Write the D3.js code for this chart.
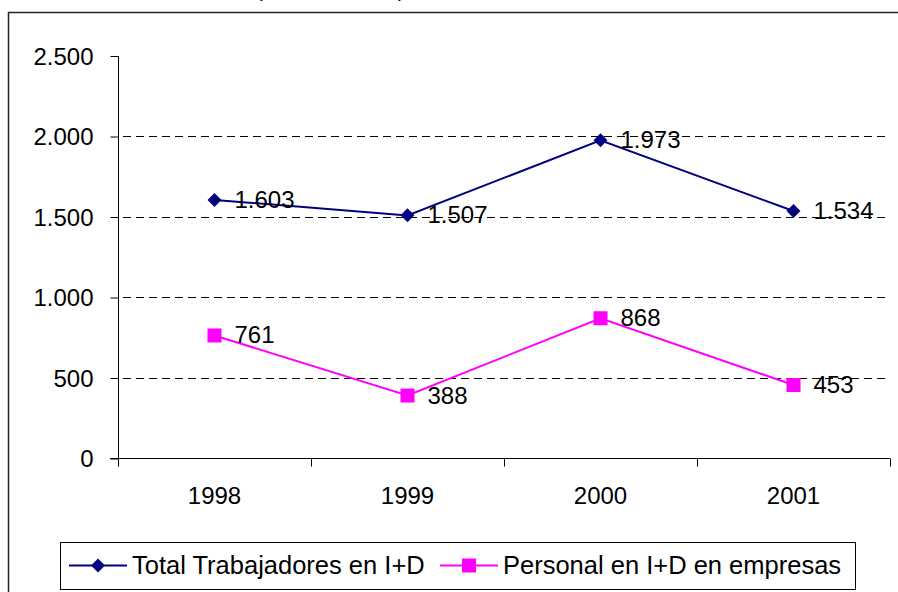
<!DOCTYPE html>
<html>
<head>
<meta charset="utf-8">
<script src="https://cdn.jsdelivr.net/npm/d3@7"></script>
<style>
  body { margin: 0; background: #fff; }
  text { font-family: "Liberation Sans", Arial, sans-serif; fill: #000; }
</style>
</head>
<body>
<script>
const width = 898;
const height = 592;

// data
const years = ["1998", "1999", "2000", "2001"];
const totalTrabajadores = [1603, 1507, 1973, 1534];
const personalEmpresas = [761, 388, 868, 453];
const yTicks = [0, 500, 1000, 1500, 2000, 2500];
const seriesNames = ["Total Trabajadores en I+D", "Personal en I+D en empresas"];

const fmt = d3.formatLocale({decimal: ",", thousands: ".", grouping: [3], currency: ["", ""]}).format(",d");

const svg = d3.select('body').append('svg').attr('width', width).attr('height', height);

// outer chart frame (runs off the page right and bottom)
svg.append('rect').attr('x', 8.5).attr('y', 12.5).attr('width', 1000).attr('height', 1000)
  .attr('fill', 'none').attr('stroke', '#222').attr('stroke-width', 1.5);

// bits of the cut-off title above the frame
svg.append('text').attr('x', 256).attr('y', -3).style('font-size', '20px').text('(');
svg.append('text').attr('x', 398).attr('y', -3).style('font-size', '20px').text(')');

const x = d3.scaleBand().domain(years).range([118, 890]);
const y = d3.scaleLinear().domain([0, 2500]).range([458, 55.5]);

// dashed gridlines
svg.append('g').selectAll('line').data(yTicks.filter(d => d > 0 && d < 2500)).enter().append('line')
  .attr('x1', 118).attr('x2', 890)
  .attr('y1', d => Math.round(y(d)) + 0.5).attr('y2', d => Math.round(y(d)) + 0.5)
  .attr('stroke', '#000').attr('stroke-width', 1).attr('stroke-dasharray', '8,5').attr('stroke-dashoffset', -5);

// y axis
const yAxis = d3.axisLeft(y).tickValues(yTicks).tickSize(8).tickPadding(17).tickFormat(fmt);
const gy = svg.append('g').attr('transform', 'translate(118.5,0.5)').call(yAxis);
gy.select('.domain').attr('d', `M0,${y(2500)}V${y(0) + 8}`).attr('stroke', '#000');
gy.selectAll('.tick line').attr('stroke', '#000');
gy.selectAll('.tick text').style('font-size', '24px').style('font-family', '"Liberation Sans", Arial, sans-serif').attr('dy', '0.35em');

// x axis, ticks between the categories
const gx = svg.append('g').attr('transform', `translate(0,${Math.round(y(0)) + 0.5})`);
gx.append('line').attr('x1', 110).attr('x2', 890).attr('stroke', '#000');
const bounds = years.map(d => x(d)).concat([x.range()[1]]);
gx.selectAll('.tk').data(bounds).enter().append('line').attr('class', 'tk')
  .attr('x1', d => Math.round(d) + 0.5).attr('x2', d => Math.round(d) + 0.5)
  .attr('y1', 0).attr('y2', 8).attr('stroke', '#000');
gx.selectAll('text').data(years).enter().append('text')
  .attr('x', d => x(d) + x.bandwidth() / 2).attr('y', 45)
  .attr('text-anchor', 'middle').style('font-size', '24px').text(d => d);

const cx = d => x(d) + x.bandwidth() / 2;
const line = d3.line().x((d, i) => cx(years[i])).y(d => y(d));

const navy = '#000080', pink = '#FF00FF';

function drawSeries(vals, color, marker) {
  const g = svg.append('g');
  g.append('path').datum(vals).attr('d', line).attr('fill', 'none')
    .attr('stroke', color).attr('stroke-width', 2);
  g.selectAll('.m').data(vals).enter().append('path').attr('class', 'm')
    .attr('transform', (d, i) => `translate(${cx(years[i])},${y(d)})`)
    .attr('d', marker).attr('fill', color);
  g.selectAll('.lb').data(vals).enter().append('text').attr('class', 'lb')
    .attr('x', (d, i) => cx(years[i]) + 20).attr('y', d => y(d) + 8)
    .style('font-size', '24px').text(d => fmt(d));
}

const diamond = 'M0,-7L7,0L0,7L-7,0Z';
const square = 'M-7,-7H7V7H-7Z';

drawSeries(totalTrabajadores, navy, diamond);
drawSeries(personalEmpresas, pink, square);

// legend
const lg = svg.append('g');
lg.append('rect').attr('x', 60.5).attr('y', 542.5).attr('width', 795).attr('height', 47)
  .attr('fill', '#fff').attr('stroke', '#000').attr('stroke-width', 1);
const legendItems = [
  {name: seriesNames[0], color: navy, marker: diamond, x0: 69},
  {name: seriesNames[1], color: pink, marker: square, x0: 440}
];
legendItems.forEach(it => {
  lg.append('line').attr('x1', it.x0).attr('x2', it.x0 + 58).attr('y1', 565.5).attr('y2', 565.5)
    .attr('stroke', it.color).attr('stroke-width', 2);
  lg.append('path').attr('transform', `translate(${it.x0 + 29},565.5)`).attr('d', it.marker).attr('fill', it.color);
  lg.append('text').attr('x', it.x0 + 63).attr('y', 574).style('font-size', '25.5px').text(it.name);
});
</script>
</body>
</html>
